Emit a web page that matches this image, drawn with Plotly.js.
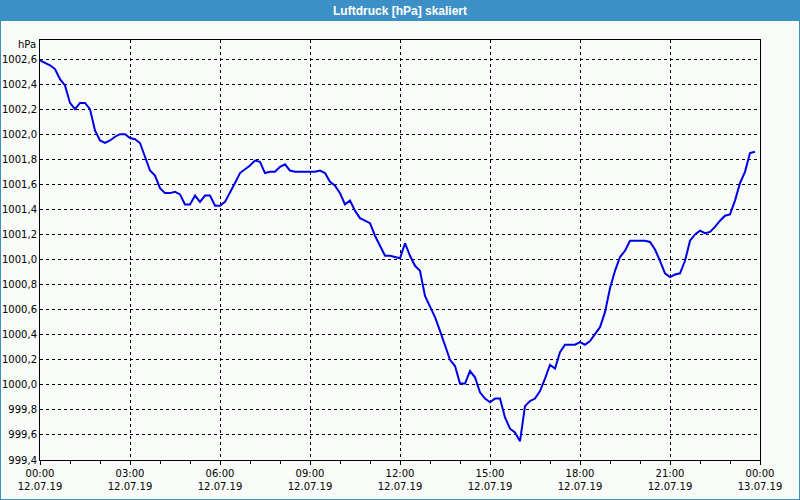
<!DOCTYPE html>
<html>
<head>
<meta charset="utf-8">
<script src="https://cdn.plot.ly/plotly-3.0.1.min.js"></script>
<style>
  html, body { margin: 0; padding: 0; background: #f9fcf9; }
  #chart { width: 800px; height: 500px; }
</style>
</head>
<body>
<div id="chart"></div>
<script>
// Data (10-minute samples, 12.07.19)
const day = "2019-07-12";
const times = [
  "00:00","00:10","00:20","00:30","00:40","00:50",
  "01:00","01:10","01:20","01:30","01:40","01:50",
  "02:00","02:10","02:20","02:30","02:40","02:50",
  "03:00","03:10","03:20","03:30","03:40","03:50",
  "04:00","04:10","04:20","04:30","04:40","04:50",
  "05:00","05:10","05:20","05:30","05:40","05:50",
  "06:00","06:10","06:20","06:30","06:40","06:50",
  "07:00","07:10","07:20","07:30","07:40","07:50",
  "08:00","08:10","08:20","08:30","08:40","08:50",
  "09:00","09:10","09:20","09:30","09:40","09:50",
  "10:00","10:10","10:20","10:30","10:40","10:50",
  "11:00","11:10","11:20","11:30","11:40","11:50",
  "12:00","12:10","12:20","12:30","12:40","12:50",
  "13:00","13:10","13:20","13:30","13:40","13:50",
  "14:00","14:10","14:20","14:30","14:40","14:50",
  "15:00","15:10","15:20","15:30","15:40","15:50",
  "16:00","16:10","16:20","16:30","16:40","16:50",
  "17:00","17:10","17:20","17:30","17:40","17:50",
  "18:00","18:10","18:20","18:30","18:40","18:50",
  "19:00","19:10","19:20","19:30","19:40","19:50",
  "20:00","20:10","20:20","20:30","20:40","20:50",
  "21:00","21:10","21:20","21:30","21:40","21:50",
  "22:00","22:10","22:20","22:30","22:40","22:50",
  "23:00","23:10","23:20","23:30","23:40","23:50"
];
const pressure = [
  1002.59,1002.57,1002.55,1002.52,1002.44,1002.39,
  1002.25,1002.20,1002.25,1002.25,1002.20,1002.03,
  1001.95,1001.93,1001.95,1001.98,1002.00,1002.00,
  1001.97,1001.96,1001.93,1001.82,1001.71,1001.67,
  1001.57,1001.53,1001.53,1001.54,1001.52,1001.44,
  1001.44,1001.51,1001.46,1001.51,1001.51,1001.43,
  1001.43,1001.46,1001.53,1001.61,1001.69,1001.72,
  1001.75,1001.79,1001.78,1001.69,1001.70,1001.70,
  1001.74,1001.76,1001.71,1001.70,1001.70,1001.70,
  1001.70,1001.70,1001.71,1001.69,1001.62,1001.59,
  1001.53,1001.44,1001.47,1001.39,1001.33,1001.31,
  1001.29,1001.19,1001.11,1001.03,1001.03,1001.02,
  1001.01,1001.13,1001.03,1000.95,1000.91,1000.71,
  1000.63,1000.54,1000.43,1000.31,1000.20,1000.15,
  1000.01,1000.01,1000.11,1000.06,999.94,999.89,
  999.86,999.89,999.89,999.74,999.65,999.62,
  999.55,999.83,999.87,999.89,999.95,1000.05,
  1000.16,1000.13,1000.26,1000.32,1000.32,1000.32,
  1000.34,1000.32,1000.35,1000.41,1000.46,1000.58,
  1000.77,1000.91,1001.02,1001.07,1001.15,1001.15,
  1001.15,1001.15,1001.14,1001.08,1000.99,1000.89,
  1000.86,1000.88,1000.89,1000.99,1001.15,1001.20,
  1001.23,1001.21,1001.22,1001.26,1001.31,1001.35,
  1001.36,1001.47,1001.61,1001.70,1001.85,1001.86
];
const titleText = "Luftdruck [hPa] skaliert";
const unitLabel = "hPa";
const xStart = "2019-07-12 00:00";
const xEnd = "2019-07-13 00:00";
const yMin = 999.4;
const yMax = 1002.752;

const x = times.map(t => day + " " + t);

// pixel helpers for decoration placement (plot area 40..760 x 40..460)
const L = 40, R = 760, T = 40, B = 460;
const px = p => (p - L) / (R - L);
const py = p => (B - p) / (B - T);

const blue = "#3d90c6";
const tickFont = { family: "DejaVu Sans, Verdana, sans-serif", size: 10, color: "#000" };

const trace = {
  type: "scatter",
  mode: "lines",
  x: x,
  y: pressure,
  line: { color: "#0000e6", width: 2 },
  hoverinfo: "skip"
};

const layout = {
  width: 800,
  height: 500,
  margin: { l: L, r: 800 - R, t: T, b: 500 - B, pad: 0 },
  paper_bgcolor: "#f9fcf9",
  plot_bgcolor: "#f9fcf9",
  separators: ",.",
  showlegend: false,
  font: tickFont,
  title: {
    text: "<b>" + titleText + "</b>",
    font: { family: "Liberation Sans, Arial, sans-serif", size: 12, color: "#ffffff" },
    x: 0.5, xanchor: "center", xref: "paper",
    y: 1 - 10.5 / 500, yanchor: "middle", yref: "container"
  },
  xaxis: {
    type: "date",
    range: [xStart, xEnd],
    tick0: xStart,
    dtick: 3 * 3600 * 1000,
    tickformat: "%H:%M<br>%d.%m.%y",
    ticks: "outside",
    ticklen: 4,
    tickcolor: "#000",
    tickfont: tickFont,
    showgrid: true,
    gridcolor: "#000",
    gridwidth: 1,
    griddash: "3px,3px",
    showline: true,
    linecolor: "#000",
    linewidth: 1,
    mirror: true,
    zeroline: false,
    minor: { dtick: 3600 * 1000, ticks: "outside", ticklen: 3, tickcolor: "#000", showgrid: false },
    fixedrange: true
  },
  yaxis: {
    range: [yMin, yMax],
    tick0: yMin,
    dtick: 0.2,
    tickformat: ".1f",
    ticks: "",
    ticklen: 0,
    tickfont: tickFont,
    showgrid: true,
    gridcolor: "#000",
    gridwidth: 1,
    griddash: "3px,3px",
    showline: true,
    linecolor: "#000",
    linewidth: 1,
    mirror: true,
    zeroline: false,
    fixedrange: true
  },
  annotations: [
    {
      text: unitLabel, xref: "paper", yref: "paper",
      x: px(38), y: py(45), xanchor: "right", yanchor: "middle",
      showarrow: false, font: tickFont
    }
  ],
  shapes: [
    { type: "rect", xref: "paper", yref: "paper", layer: "below",
      x0: px(0), x1: px(800), y0: py(21), y1: py(0),
      fillcolor: blue, line: { width: 0 } },
    { type: "line", xref: "paper", yref: "paper", layer: "above",
      x0: px(0.5), x1: px(0.5), y0: py(21), y1: py(500),
      line: { color: blue, width: 1 } },
    { type: "line", xref: "paper", yref: "paper", layer: "above",
      x0: px(799.5), x1: px(799.5), y0: py(21), y1: py(500),
      line: { color: blue, width: 1 } },
    { type: "line", xref: "paper", yref: "paper", layer: "above",
      x0: px(0), x1: px(800), y0: py(499.5), y1: py(499.5),
      line: { color: blue, width: 1 } }
  ]
};

Plotly.newPlot("chart", [trace], layout, { displayModeBar: false, staticPlot: true });
</script>
</body>
</html>
